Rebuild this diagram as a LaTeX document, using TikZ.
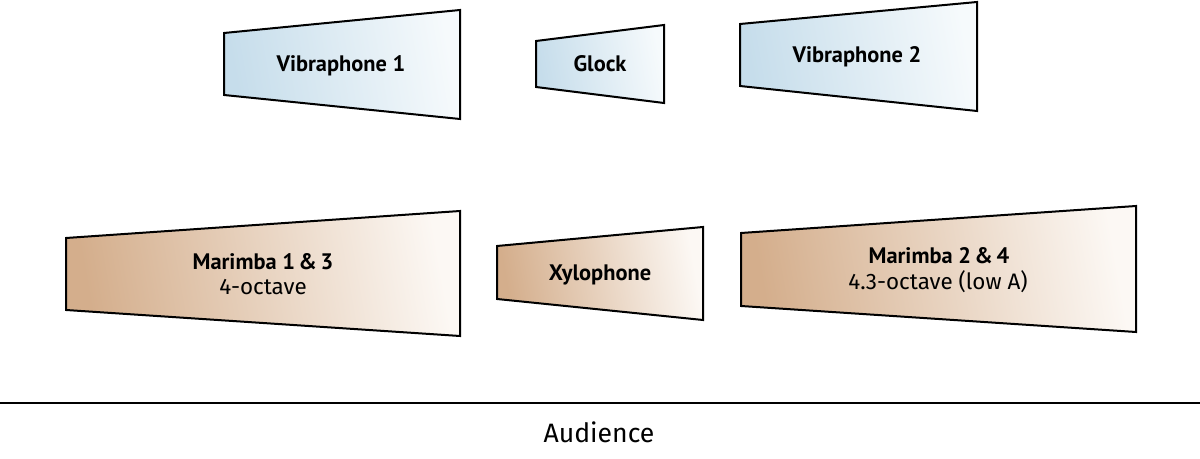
\documentclass[tikz,border=0pt]{standalone}
\usepackage{fontspec}
\setmainfont{Fira Sans}
\newfontfamily\labelfont{PT Sans}
\usepackage{tikz}
\usetikzlibrary{calc}

\definecolor{woodL}{RGB}{212,174,140}
\definecolor{woodR}{RGB}{252,248,244}
\definecolor{metalL}{RGB}{198,221,235}
\definecolor{metalR}{RGB}{246,250,252}

\tikzset{
  wood/.style={draw=black,line width=1pt,left color=woodL,right color=woodR,shading angle=100},
  metal/.style={draw=black,line width=1pt,left color=metalL,right color=metalR,shading angle=100},
  instr/.style={font=\labelfont\fontsize{11.2}{13}\selectfont\bfseries,anchor=base},
  octrange/.style={font=\fontsize{11.2}{13}\selectfont,anchor=base}
}

\begin{document}
\begin{tikzpicture}[x=0.5pt,y=-0.5pt]
\useasboundingbox (0,0) rectangle (1200,459);
% back row
\draw[metal] (224,33) -- (460,10) -- (460,119) -- (224,95) -- cycle;
\draw[metal] (536,41) -- (664,25) -- (664,103) -- (536,87) -- cycle;
\draw[metal] (740,24) -- (977,2) -- (977,111) -- (740,86) -- cycle;
\node[instr] (vib1) at (341,72) {Vibraphone 1};
\node[instr] (glock) at (600,72) {Glock};
\node[instr] (vib2) at (857,63) {Vibraphone 2};
% front row
\draw[wood] (66,238) -- (460,211) -- (460,336) -- (66,310) -- cycle;
\draw[wood] (497,246) -- (703,227) -- (703,320) -- (497,299) -- cycle;
\draw[wood] (741,233) -- (1136,206) -- (1136,332) -- (741,306) -- cycle;
\node[instr] (mar13) at (263,270) {Marimba 1\,\&\,3};
\node[octrange] (mar13r) at (263,295) {4-octave};
\node[instr] (xylo) at (600,281) {Xylophone};
\node[instr] (mar24) at (939,264) {Marimba 2\,\&\,4};
\node[octrange] (mar24r) at (938,290) {4.3-octave (low A)};
% audience
\draw[line width=1pt] (0,403) -- (1200,403);
\node[anchor=base,font=\fontsize{13.3}{15}\selectfont] (aud) at (599,443) {Audience};
\end{tikzpicture}
\end{document}
